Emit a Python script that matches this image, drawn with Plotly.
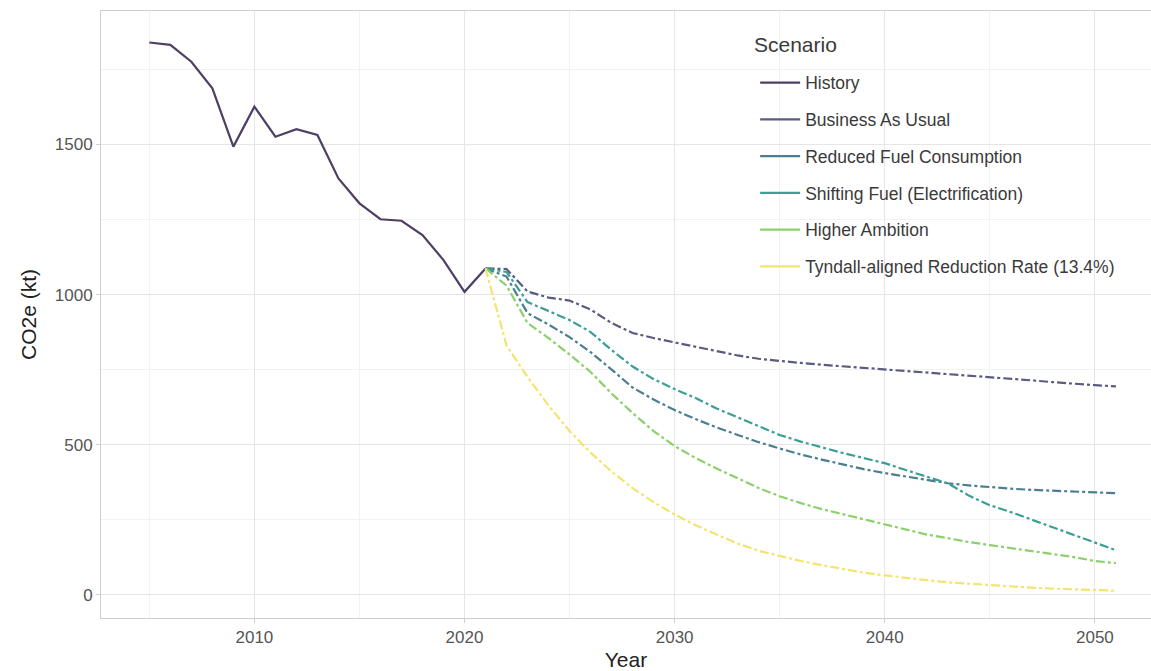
import plotly.graph_objects as go

hist_years = list(range(2005, 2022))
hist_vals = [1840, 1832, 1776, 1687, 1493, 1626, 1526, 1551, 1532, 1387, 1304,
             1251, 1246, 1198, 1115, 1009, 1087]

scen_years = list(range(2021, 2052))
bau = [1087, 1085, 1010, 990, 980, 950, 905, 872, 855, 840, 825, 810, 797, 786,
       778, 772, 766, 761, 756, 751, 746, 741, 736, 731, 726, 720, 714, 708, 702,
       698, 694]
reduced = [1087, 1060, 938, 900, 858, 808, 750, 690, 650, 615, 585, 557, 532,
           508, 487, 467, 450, 433, 418, 405, 393, 382, 371, 364, 358, 353, 349,
           346, 343, 340, 338]
shifting = [1087, 1075, 975, 945, 915, 875, 815, 760, 718, 685, 655, 620, 590,
            560, 532, 510, 490, 472, 455, 438, 415, 393, 371, 330, 298, 275, 250,
            225, 200, 175, 148]
higher = [1087, 1030, 905, 855, 800, 742, 670, 605, 545, 495, 455, 420, 388, 355,
          328, 305, 285, 268, 250, 232, 215, 200, 188, 175, 165, 155, 145, 137,
          125, 112, 105]
tyndall = [1087, 830, 725, 630, 545, 473, 410, 355, 308, 267, 231, 200, 170, 146,
           128, 112, 98, 85, 73, 64, 55, 48, 41, 36, 31, 27, 23, 20, 17, 15, 13]

names = ["History", "Business As Usual", "Reduced Fuel Consumption",
         "Shifting Fuel (Electrification)", "Higher Ambition",
         "Tyndall-aligned Reduction Rate (13.4%)"]
colors = ["#4f3f63", "#5a5b80", "#4a7f8f", "#3a9f95", "#8ccf6c", "#f2e46e"]

fig = go.Figure()
fig.add_trace(go.Scatter(x=hist_years, y=hist_vals, mode="lines",
                         line=dict(color=colors[0], width=2.2), showlegend=False))
for vals, c in zip([bau, reduced, shifting, higher, tyndall], colors[1:]):
    fig.add_trace(go.Scatter(x=scen_years, y=vals, mode="lines",
                             line=dict(color=c, width=2.2, dash="dashdot"),
                             showlegend=False))
# legend keys (solid, as in the reference)
for i, (n, c) in enumerate(zip(names, colors)):
    fig.add_trace(go.Scatter(x=[None], y=[None], mode="lines", name=n,
                             legendgroup=f"g{i}",
                             line=dict(color=c, width=2.2)))

grid_major = "#e6e6e6"
grid_minor = "#f2f2f2"
fig.update_layout(
    width=1151, height=671,
    margin=dict(l=101, r=0, t=11, b=53),
    paper_bgcolor="white", plot_bgcolor="white",
    font=dict(family="Liberation Sans, Arial, sans-serif", color="#3a3a3a"),
    legend=dict(
        x=0.623, y=0.9115, xanchor="left", yanchor="top",
        bgcolor="rgba(255,255,255,0)",
        font=dict(size=17.5, color="#3a3a3a"),
        tracegroupgap=11,
        itemwidth=40,
    ),
    annotations=[dict(text="Scenario", xref="paper", yref="paper",
                      x=0.62, y=0.944, xanchor="left", yanchor="middle",
                      showarrow=False, font=dict(size=21, color="#3a3a3a"))],
    xaxis=dict(
        title=dict(text="Year", font=dict(size=21, color="#222222"), standoff=6),
        range=[2002.7, 2052.67], dtick=10, tick0=2010,
        showgrid=True, gridcolor=grid_major, gridwidth=1,
        minor=dict(dtick=5, tick0=2005, showgrid=True, gridcolor=grid_minor),
        showline=True, linecolor="#cfcfcf", mirror=True,
        ticks="outside", ticklen=4, tickcolor="#cfcfcf",
        tickfont=dict(size=17, color="#555555"), zeroline=False,
        automargin=False,
    ),
    yaxis=dict(
        title=dict(text="CO2e (kt)", font=dict(size=21, color="#222222"), standoff=12),
        range=[-78, 1945], dtick=500, tick0=0,
        showgrid=True, gridcolor=grid_major, gridwidth=1,
        minor=dict(dtick=250, tick0=0, showgrid=True, gridcolor=grid_minor),
        showline=True, linecolor="#cfcfcf", mirror=True,
        ticks="outside", ticklen=4, tickcolor="#cfcfcf",
        tickfont=dict(size=17, color="#555555"), zeroline=False,
        automargin=False,
    ),
)
fig.write_html("out.html")
